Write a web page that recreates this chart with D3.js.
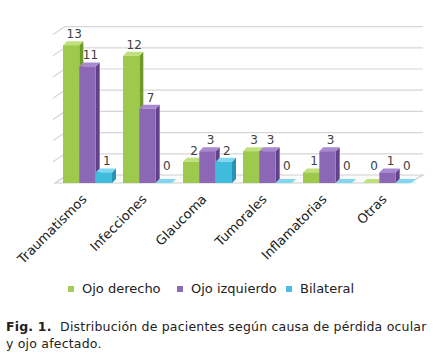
<!DOCTYPE html>
<html>
<head>
<meta charset="utf-8">
<script src="https://cdn.jsdelivr.net/npm/d3@7"></script>
<style>
  body { margin: 0; background: #fff; }
  text { font-family: "DejaVu Sans", Verdana, sans-serif; }
</style>
</head>
<body>
<div id="chart"></div>
<script>
// data
var categories = ["Traumatismos", "Infecciones", "Glaucoma", "Tumorales", "Inflamatorias", "Otras"];
var seriesNames = ["Ojo derecho", "Ojo izquierdo", "Bilateral"];
var ojoDerecho = [13, 12, 2, 3, 1, 0];
var ojoIzquierdo = [11, 7, 3, 3, 3, 1];
var bilateral = [1, 0, 2, 0, 0, 0];
var gridTicks = [0, 2, 4, 6, 8, 10, 12, 14];

var seriesValues = [ojoDerecho, ojoIzquierdo, bilateral];
var front = ["#9dc94c", "#8b67b6", "#3fbcdc"];
var side = ["#6f9a2a", "#62418c", "#2792b3"];
var top3 = ["#bfe07a", "#a98ad0", "#7fd8ef"];
var legendCol = ["#a3cc5c", "#8c6cb8", "#4bbde0"];

var width = 436, height = 364;
var x0 = 55, x1 = 415, floorY = 183;
var depthX = 12, depthY = 8;   // floor depth
var barDX = 4, barDY = 4;      // bar depth

var svg = d3.select("#chart").append("svg")
  .attr("width", width).attr("height", height);

var y = d3.scaleLinear().domain([0, 14]).range([floorY, floorY - 148.4]);
var xCat = d3.scaleBand().domain(categories).range([x0, x1]);
var xSer = d3.scaleBand().domain(seriesNames).range([8, 57]);

// gridlines (on the back wall, with a slanted piece on the side wall)
var grid = svg.append("g").attr("fill", "none").attr("stroke", "#d6d6d6").attr("stroke-width", 1.2);
gridTicks.forEach(function(t) {
  if (t === 0) return;
  var yf = y(t), yb = y(t) - depthY;
  grid.append("path")
    .attr("d", "M" + (x0 - 2) + "," + yf + "L" + (x0 - 2 + depthX) + "," + yb + "L" + (x1 + 8) + "," + yb);
});

// floor
svg.append("path")
  .attr("d", "M" + x0 + "," + floorY + "L" + (x0 + depthX) + "," + (floorY - depthY) +
    "L" + (x1 + 8) + "," + (floorY - depthY) + "L" + (x1 - 6) + "," + floorY + "Z")
  .attr("fill", "#fafafa").attr("stroke", "#cfcfcf").attr("stroke-width", 1.2);

// bars
var bars = svg.append("g");
categories.forEach(function(c, i) {
  seriesNames.forEach(function(s, k) {
    var v = seriesValues[k][i];
    var bx = xCat(c) + xSer(s), bw = xSer.bandwidth();
    var yt = y(v), yb = floorY;
    var g = bars.append("g");
    // side
    g.append("path")
      .attr("d", "M" + (bx + bw) + "," + yb + "L" + (bx + bw + barDX) + "," + (yb - barDY) +
        "L" + (bx + bw + barDX) + "," + (yt - barDY) + "L" + (bx + bw) + "," + yt + "Z")
      .attr("fill", side[k]);
    // top
    g.append("path")
      .attr("d", "M" + bx + "," + yt + "L" + (bx + barDX) + "," + (yt - barDY) +
        "L" + (bx + bw + barDX) + "," + (yt - barDY) + "L" + (bx + bw) + "," + yt + "Z")
      .attr("fill", top3[k]);
    // front
    g.append("rect")
      .attr("x", bx).attr("y", yt)
      .attr("width", bw).attr("height", Math.max(0, yb - yt))
      .attr("fill", front[k]);
  });
});

// value labels
categories.forEach(function(c, i) {
  seriesNames.forEach(function(s, k) {
    var v = seriesValues[k][i];
    svg.append("text")
      .attr("x", xCat(c) + xSer(s) + xSer.bandwidth() / 2 + 3)
      .attr("y", y(Math.max(v, 0.6)) - 7)
      .attr("text-anchor", "middle")
      .attr("font-size", 12)
      .attr("fill", "#404040")
      .text(v);
  });
});

// category labels
categories.forEach(function(c) {
  var cx = xCat(c) + 8 + 24.5;
  svg.append("text")
    .attr("transform", "translate(" + cx + ",200)rotate(-45)")
    .attr("text-anchor", "end")
    .attr("font-size", 13)
    .attr("fill", "#222")
    .text(c);
});

// legend
var legX = [68, 177, 286];
seriesNames.forEach(function(s, k) {
  svg.append("rect")
    .attr("x", legX[k]).attr("y", 286)
    .attr("width", 6).attr("height", 6)
    .attr("fill", legendCol[k]);
  svg.append("text")
    .attr("x", legX[k] + 14).attr("y", 293)
    .attr("font-size", 13)
    .attr("fill", "#222")
    .text(s);
});

// caption
var cap = svg.append("text").attr("x", 6).attr("y", 331).attr("font-size", 12.5)
  .attr("letter-spacing", 0.2).attr("fill", "#222");
cap.append("tspan").attr("font-weight", "bold").text("Fig. 1.");
cap.append("tspan").text("\u00a0 Distribución de pacientes según causa de pérdida ocular");
svg.append("text").attr("x", 6).attr("y", 348).attr("font-size", 12.5)
  .attr("letter-spacing", 0.2).attr("fill", "#222")
  .text("y ojo afectado.");
</script>
</body>
</html>
